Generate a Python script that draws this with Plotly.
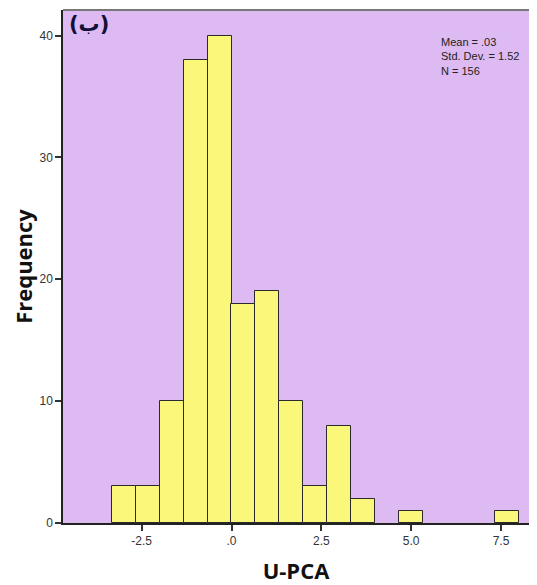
import plotly.graph_objects as go

# Data
bin_centers = [-3.0, -2.333, -1.667, -1.0, -0.333, 0.333, 1.0, 1.667, 2.333, 3.0, 3.667, 5.0, 7.667]
counts = [3, 3, 10, 38, 40, 18, 19, 10, 3, 8, 2, 1, 1]
bin_width = 0.667

x_tickvals = [-2.5, 0.0, 2.5, 5.0, 7.5]
x_ticktext = ["-2.5", ".0", "2.5", "5.0", "7.5"]
y_tickvals = [0, 10, 20, 30, 40]

stats_lines = ["Mean = .03", "Std. Dev. = 1.52", "N = 156"]
panel_label = "(ب)"
x_title = "U-PCA"
y_title = "Frequency"

fig = go.Figure()
fig.add_trace(go.Bar(
    x=bin_centers, y=counts, width=[bin_width] * len(counts),
    marker=dict(color="#FAF77A", line=dict(color="#2a2a2a", width=1)),
    hoverinfo="x+y",
))

# The page shows the figure offset by 8px; size it to the visible area
fig.update_layout(
    width=521, height=577,
    margin=dict(l=55, r=0, t=2, b=62, autoexpand=False),
    paper_bgcolor="white",
    plot_bgcolor="#DEBAF2",
    showlegend=False,
    bargap=0,
    font=dict(family="Arial, Liberation Sans", size=12, color="#333"),
    xaxis=dict(
        range=[-4.69, 8.28], tickvals=x_tickvals, ticktext=x_ticktext, automargin=False,
        showgrid=False, zeroline=False, showline=True, linecolor="#222", linewidth=1.5,
        ticks="outside", ticklen=6, tickcolor="#333", tickwidth=1.5,
        tickfont=dict(family="Arial, Liberation Sans", size=12, color="#333"),
        title=dict(text=x_title, font=dict(family="Open Sans", size=22, color="#111", weight="bold"), standoff=16),
    ),
    yaxis=dict(
        range=[0, 42.1], tickvals=y_tickvals, automargin=False,
        showgrid=False, zeroline=False, showline=True, linecolor="#222", linewidth=1.5,
        ticks="outside", ticklen=6, tickcolor="#333", tickwidth=1.5,
        tickfont=dict(family="Arial, Liberation Sans", size=12, color="#333"),
        title=dict(text=y_title, font=dict(family="Open Sans", size=22, color="#111", weight="bold"), standoff=15),
    ),
)

# top border of the plot frame
fig.add_shape(type="line", xref="paper", yref="paper", x0=0, x1=1, y0=1, y1=1,
              line=dict(color="#777", width=2))

fig.add_annotation(
    text="<br>".join(stats_lines), xref="paper", yref="paper",
    x=0.8075, y=0.953, xanchor="left", yanchor="top", align="left", showarrow=False,
    font=dict(family="Arial, Liberation Sans", size=11, color="#222"),
)
fig.add_annotation(
    text=panel_label, xref="paper", yref="paper",
    x=0.008, y=1.0, xanchor="left", yanchor="top", showarrow=False,
    font=dict(family="DejaVu Sans", size=21, color="#10103a", weight="bold"),
)

fig.write_html("out.html")
